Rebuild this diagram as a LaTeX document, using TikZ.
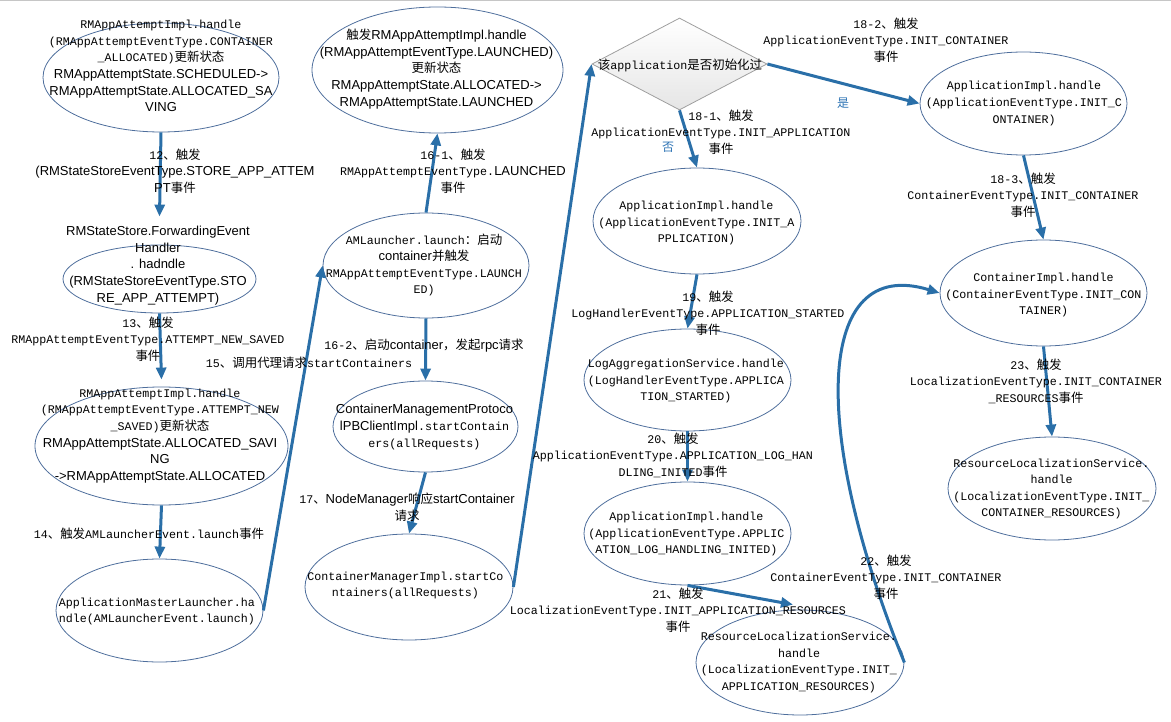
\documentclass[tikz,border=0pt]{standalone}
\usepackage{fontspec}
\setmainfont{Liberation Sans}
\newfontfamily\monof{Liberation Mono}[Scale=0.8975]
\newfontfamily\cjkf{Noto Sans CJK SC}[Scale=0.96]
\usetikzlibrary{shapes.geometric,arrows.meta}
\definecolor{edgeblue}{HTML}{2A6FA8}
\definecolor{ellline}{HTML}{4E6E9C}
\definecolor{labblue}{HTML}{2E74B5}
\newcommand\M[1]{{\monof #1}}
\newcommand\C[1]{{\cjkf #1}}
\begin{document}
\begin{tikzpicture}[x=1pt,y=-1pt,
  ell/.style={ellipse, draw=ellline, line width=0.8pt, inner sep=0pt},
  txt/.style={align=center, inner sep=0pt, text=black, font=\fontsize{13pt}{16.6pt}\selectfont},
  arr/.style={draw=edgeblue, line width=3pt, -{Triangle[length=12pt,width=10pt]}},
  yn/.style={inner sep=0pt, text=labblue, font=\fontsize{12.5pt}{15pt}\selectfont\cjkf}]
\useasboundingbox (0,0) rectangle (1171,722);
\draw[gray!45, line width=1pt] (0,0.5) -- (1171,0.5);

% ellipses
\node[ell, minimum width=236pt, minimum height=109pt] (e1) at (161,77.5) {};
\node[ell, minimum width=193pt, minimum height=68pt] (e2) at (159.5,279) {};
\node[ell, minimum width=253pt, minimum height=118pt] (e3) at (161.5,446) {};
\node[ell, minimum width=207pt, minimum height=103pt] (e4) at (159.5,610.5) {};
\node[ell, minimum width=251pt, minimum height=126pt] (e5) at (437.5,70) {};
\node[ell, minimum width=206pt, minimum height=105pt] (e6) at (426,265.5) {};
\node[ell, minimum width=185pt, minimum height=91pt] (e7) at (425.5,426.5) {};
\node[ell, minimum width=208pt, minimum height=106pt] (e8) at (409,587) {};
\node[diamond, draw=gray!75, line width=0.8pt, top color=white, bottom color=gray!20, inner sep=0pt, minimum width=175pt, minimum height=92pt] (dq) at (679.5,64) {};
\node[ell, minimum width=207pt, minimum height=103pt] (e9) at (1023.5,103.5) {};
\node[ell, minimum width=208pt, minimum height=106pt] (e10) at (697,221) {};
\node[ell, minimum width=207pt, minimum height=102pt] (e11) at (687.5,380) {};
\node[ell, minimum width=207pt, minimum height=103pt] (e12) at (687.5,533.5) {};
\node[ell, minimum width=208pt, minimum height=105pt] (e13) at (800,662.5) {};
\node[ell, minimum width=207pt, minimum height=106pt] (e14) at (1043.5,293) {};
\node[ell, minimum width=208pt, minimum height=103pt] (e15) at (1052,488.5) {};

% connectors
\draw[arr] (e1.south) -- ([yshift=28pt]e2.north);
\draw[arr] (e2.south) -- ([yshift=7pt]e3.north);
\draw[arr] (e3.south) -- (e4.north);
\draw[arr] (e4.east) -- (e6.west);
\draw[arr] (e6.north) -- (e5.south);
\draw[arr] (e6.south) -- (e7.north);
\draw[arr] (e7.south) -- (e8.north);
\draw[arr] (e8.east) -- (dq.west);
\draw[arr] (dq.south) -- (e10.north);
\draw[arr] (dq.east) -- (e9.west);
\draw[arr] (e9.south) -- (e14.north);
\draw[arr] (e10.south) -- (e11.north);
\draw[arr] (e11.south) -- (e12.north);
\draw[arr] (e12.south) -- ([xshift=-7pt,yshift=5pt]e13.north);
\draw[arr] (e13.east) .. controls (810,430) and (815,255) .. (e14.west);
\draw[arr] (e14.south) -- (e15.north);

% texts in shapes
\node[txt] (t1) at (161,66) {\M{RMAppAttemptImpl.handle}\\\M{(RMAppAttemptEventType.CONTAINER}\\\M{\_ALLOCATED)}\C{更新状态}\\RMAppAttemptState.SCHEDULED->\\RMAppAttemptState.ALLOCATED\_SA\\VING};
\node[txt] (t2) at (158,265.5) {RMStateStore.ForwardingEvent\\Handler\\. hadndle\\(RMStateStoreEventType.STO\\RE\_APP\_ATTEMPT)};
\node[txt] (t3) at (160,436) {\M{RMAppAttemptImpl.handle}\\\M{(RMAppAttemptEventType.ATTEMPT\_NEW}\\\M{\_SAVED)}\C{更新状态}\\RMAppAttemptState.ALLOCATED\_SAVI\\NG\\->RMAppAttemptState.ALLOCATED};
\node[txt] (t4) at (157,611.5) {\M{ApplicationMasterLauncher.ha}\\\M{ndle(AMLauncherEvent.launch)}};
\node[txt] (t5) at (436.5,69) {\C{触发}RMAppAttemptImpl.handle\\(RMAppAttemptEventType.LAUNCHED)\\\C{更新状态}\\RMAppAttemptState.ALLOCATED->\\RMAppAttemptState.LAUNCHED};
\node[txt] (t6) at (424,265) {\M{AMLauncher.launch}\C{：启动}\\container\C{并触发}\\\M{RMAppAttemptEventType.LAUNCH}\\\M{ED)}};
\node[txt] (t7) at (424.5,427) {ContainerManagementProtoco\\lPBClientImpl\M{.startContain}\\\M{ers(allRequests)}};
\node[txt] (t8) at (405.5,585.5) {\M{ContainerManagerImpl.startCo}\\\M{ntainers(allRequests)}};
\node[txt] (tq) at (680,65) {\C{该}\M{application}\C{是否初始化过}};
\node[txt] (t9) at (1024,103.5) {\M{ApplicationImpl.handle}\\\M{(ApplicationEventType.INIT\_C}\\\M{ONTAINER)}};
\node[txt] (t10) at (696.5,223) {\M{ApplicationImpl.handle}\\\M{(ApplicationEventType.INIT\_A}\\\M{PPLICATION)}};
\node[txt] (t11) at (686,381) {\M{LogAggregationService.handle}\\\M{(LogHandlerEventType.APPLICA}\\\M{TION\_STARTED)}};
\node[txt] (t12) at (686.5,534) {\M{ApplicationImpl.handle}\\\M{(ApplicationEventType.APPLIC}\\\M{ATION\_LOG\_HANDLING\_INITED)}};
\node[txt] (t13) at (799,662.5) {\M{ResourceLocalizationService.}\\\M{handle}\\\M{(LocalizationEventType.INIT\_}\\\M{APPLICATION\_RESOURCES)}};
\node[txt] (t14) at (1043.5,295) {\M{ContainerImpl.handle}\\\M{(ContainerEventType.INIT\_CON}\\\M{TAINER)}};
\node[txt] (t15) at (1051.5,489) {\M{ResourceLocalizationService.}\\\M{handle}\\\M{(LocalizationEventType.INIT\_}\\\M{CONTAINER\_RESOURCES)}};

% connector labels
\node[txt] (l12) at (175,171) {\M{12}\C{、触发}\\(RMStateStoreEventType.STORE\_APP\_ATTEM\\PT\C{事件}};
\node[txt] (l13) at (148,339) {\M{13}\C{、触发}\\\M{RMAppAttemptEventType.ATTEMPT\_NEW\_SAVED}\\\C{事件}};
\node[txt] (l14) at (149,534) {\M{14}\C{、触发}\M{AMLauncherEvent.launch}\C{事件}};
\node[txt] (l15) at (309,363) {\M{15}\C{、调用代理请求}\M{startContainers}};
\node[txt] (l161) at (453,171) {\M{16-1}\C{、触发}\\\M{RMAppAttemptEventType.}LAUNCHED\\\C{事件}};
\node[txt] (l162) at (424,346) {\M{16-2}\C{、启动}container\C{，发起}rpc\C{请求}};
\node[txt] (l17) at (407,507.5) {\M{17}\C{、}NodeManager\C{响应}startContainer\\\C{请求}};
\node[txt] (l181) at (721,132) {\M{18-1}\C{、触发}\\\M{ApplicationEventType.INIT\_APPLICATION}\\\C{事件}};
\node[txt] (l182) at (886,40) {\M{18-2}\C{、触发}\\\M{ApplicationEventType.INIT\_CONTAINER}\\\C{事件}};
\node[txt] (l183) at (1023,195) {\M{18-3}\C{、触发}\\\M{ContainerEventType.INIT\_CONTAINER}\\\C{事件}};
\node[txt] (l19) at (708,313) {\M{19}\C{、触发}\\\M{LogHandlerEventType.APPLICATION\_STARTED}\\\C{事件}};
\node[txt] (l20) at (673,455) {\M{20}\C{、触发}\\\M{ApplicationEventType.APPLICATION\_LOG\_HAN}\\\M{DLING\_INITED}\C{事件}};
\node[txt] (l21) at (678,610) {\M{21}\C{、触发}\\\M{LocalizationEventType.INIT\_APPLICATION\_RESOURCES}\\\C{事件}};
\node[txt] (l22) at (886,577) {\M{22}\C{、触发}\\\M{ContainerEventType.INIT\_CONTAINER}\\\C{事件}};
\node[txt] (l23) at (1036,381) {\M{23}\C{、触发}\\\M{LocalizationEventType.INIT\_CONTAINER}\\\M{\_RESOURCES}\C{事件}};
\node[yn] (yes) at (843,103) {是};
\node[yn] (no) at (668,147) {否};
\end{tikzpicture}
\end{document}
